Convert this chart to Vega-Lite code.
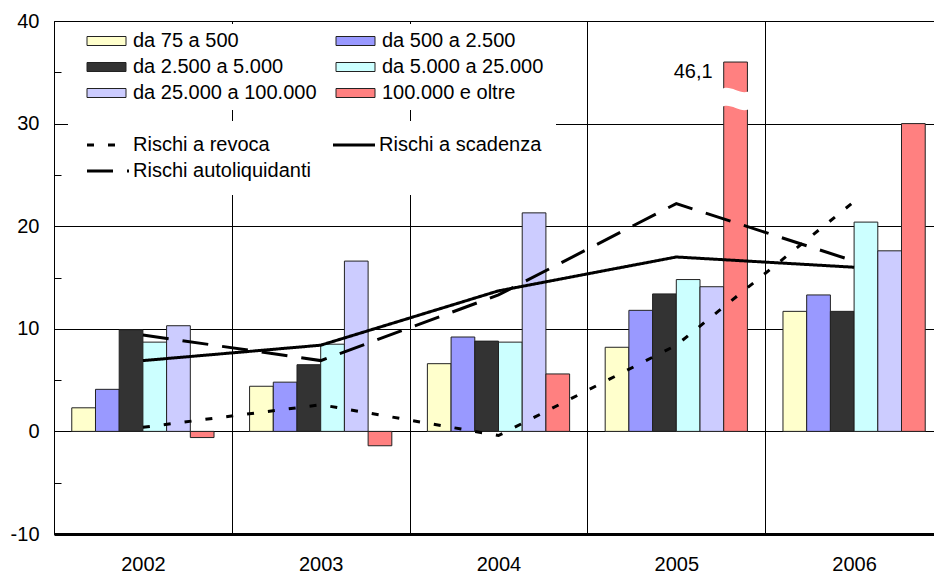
{
  "$schema": "https://vega.github.io/schema/vega-lite/v6.json",
  "width": 880,
  "height": 513,
  "autosize": {"type": "none"},
  "padding": {"left": 54, "top": 21, "right": 0, "bottom": 41},
  "background": "white",
  "config": {
    "font": "Liberation Sans",
    "view": {"stroke": null},
    "locale": {"number": {"decimal": ",", "thousands": ".", "grouping": [3], "currency": ["", " €"], "minus": "-"}}
  },
  "datasets": {
    "barre": [
      {"anno": "2002", "classe": "da 75 a 500", "valore": 2.3},
      {"anno": "2002", "classe": "da 500 a 2.500", "valore": 4.1},
      {"anno": "2002", "classe": "da 2.500 a 5.000", "valore": 9.9},
      {"anno": "2002", "classe": "da 5.000 a 25.000", "valore": 8.7},
      {"anno": "2002", "classe": "da 25.000 a 100.000", "valore": 10.3},
      {"anno": "2002", "classe": "100.000 e oltre", "valore": -0.6},
      {"anno": "2003", "classe": "da 75 a 500", "valore": 4.4},
      {"anno": "2003", "classe": "da 500 a 2.500", "valore": 4.8},
      {"anno": "2003", "classe": "da 2.500 a 5.000", "valore": 6.5},
      {"anno": "2003", "classe": "da 5.000 a 25.000", "valore": 8.5},
      {"anno": "2003", "classe": "da 25.000 a 100.000", "valore": 16.6},
      {"anno": "2003", "classe": "100.000 e oltre", "valore": -1.4},
      {"anno": "2004", "classe": "da 75 a 500", "valore": 6.6},
      {"anno": "2004", "classe": "da 500 a 2.500", "valore": 9.2},
      {"anno": "2004", "classe": "da 2.500 a 5.000", "valore": 8.8},
      {"anno": "2004", "classe": "da 5.000 a 25.000", "valore": 8.7},
      {"anno": "2004", "classe": "da 25.000 a 100.000", "valore": 21.3},
      {"anno": "2004", "classe": "100.000 e oltre", "valore": 5.6},
      {"anno": "2005", "classe": "da 75 a 500", "valore": 8.2},
      {"anno": "2005", "classe": "da 500 a 2.500", "valore": 11.8},
      {"anno": "2005", "classe": "da 2.500 a 5.000", "valore": 13.4},
      {"anno": "2005", "classe": "da 5.000 a 25.000", "valore": 14.8},
      {"anno": "2005", "classe": "da 25.000 a 100.000", "valore": 14.1},
      {"anno": "2005", "classe": "100.000 e oltre", "valore": 46.1},
      {"anno": "2006", "classe": "da 75 a 500", "valore": 11.7},
      {"anno": "2006", "classe": "da 500 a 2.500", "valore": 13.3},
      {"anno": "2006", "classe": "da 2.500 a 5.000", "valore": 11.7},
      {"anno": "2006", "classe": "da 5.000 a 25.000", "valore": 20.4},
      {"anno": "2006", "classe": "da 25.000 a 100.000", "valore": 17.6},
      {"anno": "2006", "classe": "100.000 e oltre", "valore": 30.0}
    ],
    "linee": [
      {"anno": "2002", "serie": "Rischi a revoca", "valore": 0.4},
      {"anno": "2003", "serie": "Rischi a revoca", "valore": 2.6},
      {"anno": "2004", "serie": "Rischi a revoca", "valore": -0.4},
      {"anno": "2005", "serie": "Rischi a revoca", "valore": 8.4},
      {"anno": "2006", "serie": "Rischi a revoca", "valore": 22.4},
      {"anno": "2002", "serie": "Rischi a scadenza", "valore": 6.9},
      {"anno": "2003", "serie": "Rischi a scadenza", "valore": 8.4},
      {"anno": "2004", "serie": "Rischi a scadenza", "valore": 13.7},
      {"anno": "2005", "serie": "Rischi a scadenza", "valore": 17.0},
      {"anno": "2006", "serie": "Rischi a scadenza", "valore": 16.0},
      {"anno": "2002", "serie": "Rischi autoliquidanti", "valore": 9.4},
      {"anno": "2003", "serie": "Rischi autoliquidanti", "valore": 6.9},
      {"anno": "2004", "serie": "Rischi autoliquidanti", "valore": 13.3},
      {"anno": "2005", "serie": "Rischi autoliquidanti", "valore": 22.2},
      {"anno": "2006", "serie": "Rischi autoliquidanti", "valore": 16.6}
    ]
  },
  "layer": [
    {
      "data": {"name": "barre"},
      "transform": [{"calculate": "min(datum.valore, 36)", "as": "disegnato"}],
      "mark": {"type": "bar", "stroke": "#222", "strokeWidth": 1},
      "encoding": {
        "x": {
          "field": "anno", "type": "nominal",
          "scale": {"range": [0, 889], "paddingInner": 0, "paddingOuter": 0},
          "axis": {
            "title": null, "labelAngle": 0, "labelFontSize": 20, "labelColor": "black",
            "labelPadding": 20, "ticks": false, "domainColor": "black", "domainWidth": 3,
            "grid": true, "gridColor": "black", "gridWidth": 1, "gridOpacity": 1, "tickBand": "extent"
          }
        },
        "xOffset": {
          "field": "classe", "type": "nominal",
          "scale": {"domain": ["da 75 a 500", "da 500 a 2.500", "da 2.500 a 5.000", "da 5.000 a 25.000", "da 25.000 a 100.000", "100.000 e oltre"], "paddingInner": 0, "paddingOuter": 0.75}
        },
        "y": {
          "field": "disegnato", "type": "quantitative",
          "scale": {"domain": [-10, 40], "nice": false, "zero": false},
          "axis": {
            "title": null, "values": [-10, -5, 0, 5, 10, 15, 20, 25, 30, 35, 40],
            "labelExpr": "datum.value % 10 === 0 ? datum.label : ''",
            "labelFontSize": 20, "labelColor": "black", "labelPadding": 22,
            "tickSize": -7, "tickColor": "black", "domainColor": "black", "domainWidth": 1,
            "grid": true, "gridColor": "black", "gridWidth": 1,
            "gridOpacity": {"condition": {"test": "datum.value % 10 !== 0", "value": 0}, "value": 1}
          }
        },
        "fill": {
          "field": "classe", "type": "nominal",
          "scale": {
            "domain": ["da 75 a 500", "da 2.500 a 5.000", "da 25.000 a 100.000", "da 500 a 2.500", "da 5.000 a 25.000", "100.000 e oltre"],
            "range": ["#FFFFCC", "#333333", "#CCCCFF", "#9999FF", "#CCFFFF", "#FF8080"]
          },
          "legend": {
            "orient": "none", "legendX": 21, "legendY": 3, "columns": 2, "title": null,
            "symbolType": "M-1,-0.9H6.8V0.9H-1Z", "symbolSize": 100,
            "symbolStrokeColor": "#222", "symbolStrokeWidth": 1, "symbolOpacity": 1,
            "labelFontSize": 20, "labelColor": "black", "labelOffset": 31, "labelLimit": 400,
            "columnPadding": 14, "rowPadding": 6, "fillColor": "white", "padding": 7
          }
        }
      }
    },
    {
      "data": {"name": "barre"},
      "transform": [{"filter": "datum.valore > 40"}],
      "mark": {"type": "point", "shape": "M-1,-0.6C-0.4,-1.1 0.4,-0.1 1,-0.6L1,0.6C0.4,1.1 -0.4,0.1 -1,0.6Z", "filled": true, "fill": "white", "opacity": 1, "strokeWidth": 0, "size": 900},
      "encoding": {
        "x": {"field": "anno", "type": "nominal"},
        "xOffset": {"field": "classe", "type": "nominal"},
        "y": {"datum": 32.4, "type": "quantitative"}
      }
    },
    {
      "data": {"name": "barre"},
      "transform": [{"filter": "datum.valore > 40"}],
      "mark": {"type": "text", "align": "right", "baseline": "middle", "dx": -23, "fontSize": 20, "color": "black"},
      "encoding": {
        "x": {"field": "anno", "type": "nominal"},
        "xOffset": {"field": "classe", "type": "nominal"},
        "y": {"datum": 35, "type": "quantitative"},
        "text": {"field": "valore", "type": "quantitative", "format": ".1f"}
      }
    },
    {
      "data": {"name": "linee"},
      "mark": {"type": "line", "color": "black", "strokeWidth": 3},
      "encoding": {
        "x": {"field": "anno", "type": "nominal"},
        "y": {"field": "valore", "type": "quantitative"},
        "strokeDash": {
          "field": "serie", "type": "nominal",
          "scale": {"domain": ["Rischi a revoca", "Rischi autoliquidanti", "Rischi a scadenza"], "range": [[7, 14], [26, 14], [1, 0]]},
          "legend": {
            "orient": "none", "legendX": 14, "legendY": 100, "columns": 2, "title": null,
            "symbolType": "M-1,0H7.4", "symbolSize": 100, "symbolStrokeWidth": 3, "symbolStrokeColor": "black", "symbolFillColor": "transparent",
            "labelFontSize": 20, "labelColor": "black", "labelOffset": 31, "labelLimit": 400,
            "columnPadding": 16, "rowPadding": 6, "fillColor": "white", "padding": 14
          }
        }
      }
    }
  ]
}
